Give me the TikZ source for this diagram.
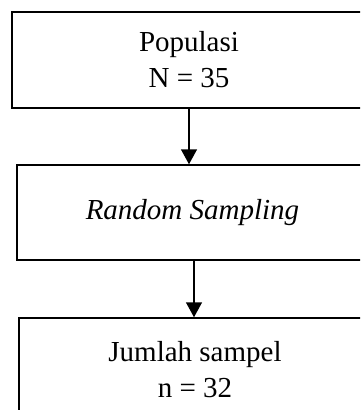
\documentclass[tikz,border=0pt]{standalone}
\usepackage{fontspec}
\setmainfont{Liberation Serif}
\usetikzlibrary{arrows.meta}
\begin{document}
\begin{tikzpicture}[x=1pt,y=-1pt,
  box/.style={draw,line width=1.5pt,inner sep=0pt,align=center,font=\fontsize{29}{36}\selectfont},
  arr/.style={line width=1.5pt,-{Triangle[length=15pt,width=16pt]}}]
\useasboundingbox (0,0) rectangle (360,410);
\clip (0,0) rectangle (360,410);
\node[box,minimum width=354pt,minimum height=96pt] (pop) at (189,60) {Populasi\\N = 35};
\node[box,minimum width=351pt,minimum height=95pt] (rs) at (192.5,212.5) {\textit{Random Sampling}};
\node[box,minimum width=352pt,minimum height=104pt] (js) at (195,370) {Jumlah sampel\\n = 32};
\draw[arr] (pop.south) -- (pop.south |- rs.north);
\draw[arr] ([xshift=1.5pt]rs.south) -- ([xshift=1.5pt]rs.south |- js.north);
\end{tikzpicture}
\end{document}
